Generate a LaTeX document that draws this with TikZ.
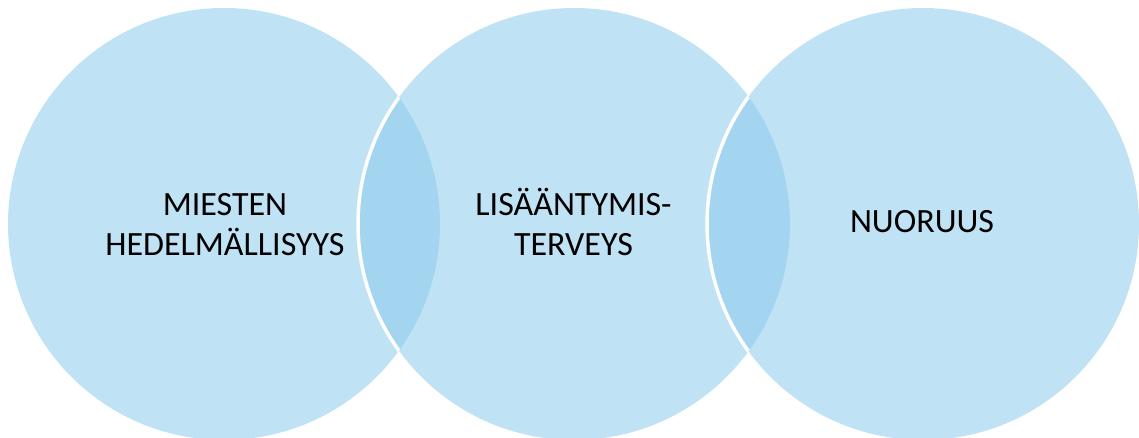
\documentclass[tikz,border=0pt]{standalone}
\usepackage{fontspec}
\setmainfont{Carlito}
\begin{document}
\begin{tikzpicture}[x=1pt,y=-1pt,
  bubble/.style={fill={rgb,255:red,138;green,201;blue,236}, fill opacity=0.54, draw=none},
  rim/.style={draw=white, line width=3.5pt},
  lbl/.style={text=black, font=\fontsize{34}{40}\selectfont, align=center, anchor=base, inner sep=0pt}]
\useasboundingbox (0,0) rectangle (1139,438);
\coordinate (cA) at (224,224);
\coordinate (cB) at (574,224);
\coordinate (cC) at (923,224);
\fill[bubble] (cA) circle (216);
\fill[bubble] (cB) circle (216);
\fill[bubble] (cC) circle (216);
\begin{scope}
  \clip (cA) circle (216);
  \draw[rim] (cB) circle (216);
\end{scope}
\begin{scope}
  \clip (cB) circle (216);
  \draw[rim] (cC) circle (216);
\end{scope}
\node[lbl] (a) at (225,255) {MIESTEN\\HEDELMÄLLISYYS};
\node[lbl] (b) at (573.5,255) {LISÄÄNTYMIS-\\TERVEYS};
\node[lbl] (c) at (922,233) {NUORUUS};
\end{tikzpicture}
\end{document}
